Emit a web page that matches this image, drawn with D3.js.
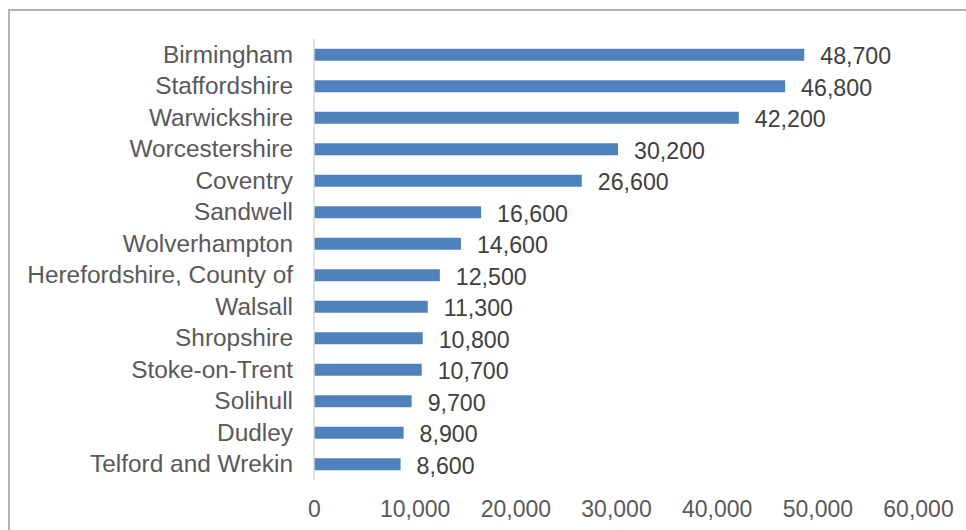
<!DOCTYPE html>
<html>
<head>
<meta charset="utf-8">
<script src="https://cdn.jsdelivr.net/npm/d3@7"></script>
<style>
  html, body { margin: 0; padding: 0; background: #fff; }
  svg { display: block; }
  text { font-family: "Liberation Sans", Arial, sans-serif; }
</style>
</head>
<body>
<svg id="chart" width="966" height="530"></svg>
<script>
const categories = [
  "Birmingham", "Staffordshire", "Warwickshire", "Worcestershire", "Coventry",
  "Sandwell", "Wolverhampton", "Herefordshire, County of", "Walsall", "Shropshire",
  "Stoke-on-Trent", "Solihull", "Dudley", "Telford and Wrekin"
];
const values = [48700, 46800, 42200, 30200, 26600, 16600, 14600, 12500, 11300, 10800, 10700, 9700, 8900, 8600];
const xTicks = [0, 10000, 20000, 30000, 40000, 50000, 60000];

const svg = d3.select("#chart");

// outer frame
svg.append("rect")
  .attr("x", 9).attr("y", 10)
  .attr("width", 1000).attr("height", 600)
  .attr("fill", "none")
  .attr("stroke", "#b4b4b4")
  .attr("stroke-width", 2);

const x = d3.scaleLinear().domain([0, 60000]).range([314, 918]);
const y = d3.scaleBand().domain(categories).range([39, 480])
  .paddingInner(0.62).paddingOuter(0.31);

const fmt = d3.format(",");

// bars
svg.append("g").selectAll("rect")
  .data(values)
  .join("rect")
  .attr("x", x(0))
  .attr("y", (d, i) => y(categories[i]))
  .attr("width", d => x(d) - x(0))
  .attr("height", y.bandwidth())
  .attr("fill", "#4f81bd");

// vertical axis line
svg.append("line")
  .attr("x1", x(0)).attr("x2", x(0))
  .attr("y1", 39).attr("y2", 480)
  .attr("stroke", "#d9d9d9")
  .attr("stroke-width", 1.5);

// category labels
svg.append("g").selectAll("text")
  .data(categories)
  .join("text")
  .attr("x", 293)
  .attr("y", d => y(d) + y.bandwidth() / 2)
  .attr("dy", "0.33em")
  .attr("text-anchor", "end")
  .attr("font-size", 24.4)
  .attr("fill", "#595959")
  .text(d => d);

// value labels
svg.append("g").selectAll("text")
  .data(values)
  .join("text")
  .attr("x", d => x(d) + 16)
  .attr("y", (d, i) => y(categories[i]) + y.bandwidth() / 2)
  .attr("dy", "0.4em")
  .attr("font-size", 23.2)
  .attr("fill", "#404040")
  .text(d => fmt(d));

// x axis tick labels
const xAxis = d3.axisBottom(x).tickValues(xTicks).tickFormat(fmt).tickSize(0).tickPadding(0);
const gx = svg.append("g").attr("transform", "translate(0,500)").call(xAxis);
gx.select(".domain").remove();
gx.selectAll("text")
  .attr("font-size", 23)
  .attr("font-family", "Liberation Sans, Arial, sans-serif")
  .attr("fill", "#595959")
  .attr("dy", "0.72em");
</script>
</body>
</html>
